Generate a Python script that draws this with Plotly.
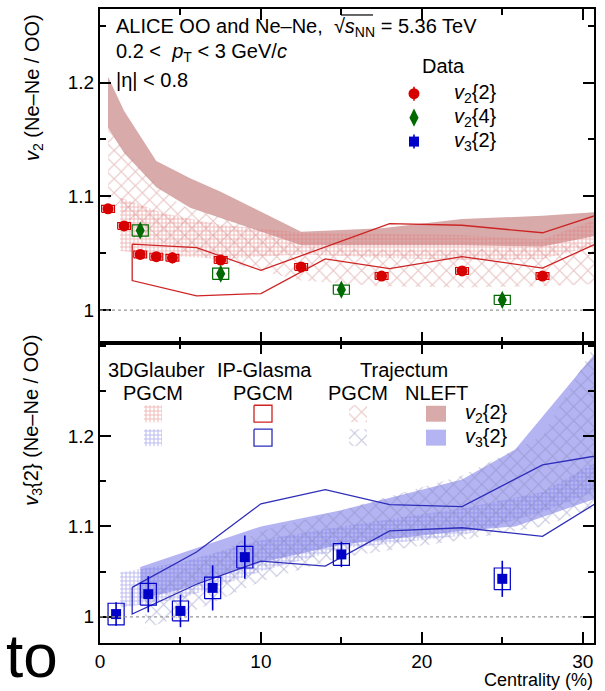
import plotly.graph_objects as go

# ---------------- data (ratio Ne-Ne / OO) ----------------
v22_x = [0.5, 1.5, 2.5, 3.5, 4.5, 7.5, 12.5, 17.5, 22.5, 27.5]
v22_y = [1.089, 1.074, 1.049, 1.047, 1.046, 1.044, 1.038, 1.030, 1.0345, 1.030]
v22_stat = [0.002, 0.002, 0.003, 0.003, 0.005, 0.003, 0.002, 0.002, 0.002, 0.002]
v22_syst = [0.003, 0.003, 0.003, 0.003, 0.003, 0.003, 0.003, 0.003, 0.003, 0.003]

v24_x = [2.5, 7.5, 15, 25]
v24_y = [1.070, 1.032, 1.018, 1.009]
v24_stat = [0.004, 0.006, 0.005, 0.004]
v24_syst = [0.005, 0.005, 0.004, 0.004]

v32_x = [1, 3, 5, 7, 9, 15, 25]
v32_y = [1.003, 1.025, 1.0065, 1.032, 1.066, 1.069, 1.042]
v32_stat = [0.013, 0.020, 0.018, 0.025, 0.024, 0.014, 0.020]
v32_syst = [0.012, 0.012, 0.011, 0.012, 0.012, 0.012, 0.012]

# ---------------- models, v2{2} ----------------
nleft_v2_x = [0.5, 1.5, 3.5, 5.6, 7.5, 12.5, 17.5, 22.5, 27.5, 30.7]
nleft_v2_hi = [1.205, 1.175, 1.131, 1.116, 1.104, 1.069, 1.072, 1.080, 1.083, 1.086]
nleft_v2_lo = [1.160, 1.138, 1.108, 1.090, 1.081, 1.057, 1.057, 1.057, 1.056, 1.065]

traj_v2_x = [0.5, 2.5, 5.0, 7.5, 12.5, 17.5, 22.5, 27.5, 30.7]
traj_v2_hi = [1.159, 1.125, 1.092, 1.082, 1.056, 1.053, 1.053, 1.056, 1.060]
traj_v2_lo = [1.098, 1.070, 1.052, 1.043, 1.026, 1.021, 1.020, 1.021, 1.023]

glau_v2_x = [1.25, 4.0, 7.5, 12.5, 17.5, 22.5, 27.5, 30.7]
glau_v2_hi = [1.099, 1.085, 1.075, 1.068, 1.067, 1.066, 1.062, 1.079]
glau_v2_lo = [1.052, 1.048, 1.045, 1.049, 1.046, 1.044, 1.045, 1.056]

ipg_v2_x = [2, 6, 10, 14, 18, 22.5, 27.5, 32.5]
ipg_v2_hi = [1.058, 1.055, 1.035, 1.0555, 1.076, 1.0746, 1.068, 1.091]
ipg_v2_lo = [1.026, 1.0126, 1.0146, 1.045, 1.0365, 1.047, 1.037, 1.069]

# ---------------- models, v3{2} ----------------
nleft_v3_x = [2.5, 5, 10, 15, 22.5, 25.8, 30.7]
nleft_v3_hi = [1.055, 1.070, 1.100, 1.118, 1.152, 1.185, 1.290]
nleft_v3_lo = [1.020, 1.030, 1.060, 1.080, 1.095, 1.100, 1.130]

traj_v3_x = [2.8, 5, 10, 15, 22.5, 27.5, 30.7]
traj_v3_hi = [1.020, 1.050, 1.095, 1.118, 1.156, 1.200, 1.300]
traj_v3_lo = [0.987, 1.000, 1.039, 1.066, 1.085, 1.100, 1.120]

glau_v3_x = [1.25, 5, 10, 15, 22.5, 27.5, 30.7]
glau_v3_hi = [1.049, 1.060, 1.085, 1.100, 1.120, 1.138, 1.170]
glau_v3_lo = [1.010, 1.020, 1.050, 1.075, 1.090, 1.116, 1.138]

ipg_v3_x = [2, 6, 10, 14, 18, 22.5, 27.5, 32.5]
ipg_v3_hi = [1.0326, 1.0717, 1.125, 1.1406, 1.124, 1.122, 1.168, 1.183]
ipg_v3_lo = [1.003, 1.036, 1.0616, 1.056, 1.095, 1.0985, 1.089, 1.144]

x_ticks = [0, 10, 20, 30]
y_ticks = [1, 1.1, 1.2]

# ---------------- styling / layout constants ----------------
W, H = 605, 691
L, R, T, B = 100, 11, 7, 48
FONT = "Liberation Sans, Arial, Helvetica, sans-serif"
FS = 20
RED, GREEN, BLUE = "rgb(215,0,0)", "rgb(0,105,0)", "rgb(0,0,200)"
PINK_SOLID, BLUE_SOLID = "rgb(216,170,170)", "rgb(180,180,243)"
PINK_HATCH, BLUE_HATCH = "rgb(208,135,135)", "rgb(135,135,185)"
PINK_GRID, BLUE_GRID = "rgb(226,118,118)", "rgb(118,118,226)"
IPG_RED, IPG_BLUE = "rgb(205,35,35)", "rgb(45,45,185)"
HATCH = dict(shape="x", size=10, solidity=0.2)
GRID = dict(shape="+", size=4, solidity=0.45)

def px_x(p):
    return (p - L) / (W - L - R)

def px_y(p):
    return (H - B - p) / (H - T - B)

fig = go.Figure()

def style_fill(tr, kind, color):
    if kind == "solid":
        tr.update(fillcolor=color, line=dict(width=0, color=color))
    elif kind == "line":
        tr.update(fill="none", line=dict(width=1.3, color=color))
    else:
        pat = HATCH if kind == "hatch" else GRID
        tr.update(fillcolor="rgba(0,0,0,0)", line=dict(width=0, color="rgba(0,0,0,0)"),
                  fillpattern=dict(fgcolor=color, bgcolor="rgba(0,0,0,0)",
                                   fillmode="overlay", **pat))
    return tr

def band(x, hi, lo, xa, ya, kind, color):
    xs = list(x) + list(x)[::-1] + [x[0]]
    ys = list(hi) + list(lo)[::-1] + [hi[0]]
    tr = dict(x=xs, y=ys, xaxis=xa, yaxis=ya, mode="lines", fill="toself",
              showlegend=False, hoverinfo="skip")
    fig.add_trace(go.Scatter(**style_fill(tr, kind, color)))

# top panel (x2, y2)
band(nleft_v2_x, nleft_v2_hi, nleft_v2_lo, "x2", "y2", "solid", PINK_SOLID)
band(glau_v2_x, glau_v2_hi, glau_v2_lo, "x2", "y2", "grid", PINK_GRID)
band(traj_v2_x, traj_v2_hi, traj_v2_lo, "x2", "y2", "hatch", PINK_HATCH)
band(ipg_v2_x, ipg_v2_hi, ipg_v2_lo, "x2", "y2", "line", IPG_RED)
# bottom panel (x, y)
band(nleft_v3_x, nleft_v3_hi, nleft_v3_lo, "x", "y", "solid", BLUE_SOLID)
band(glau_v3_x, glau_v3_hi, glau_v3_lo, "x", "y", "grid", BLUE_GRID)
band(traj_v3_x, traj_v3_hi, traj_v3_lo, "x", "y", "hatch", BLUE_HATCH)
band(ipg_v3_x, ipg_v3_hi, ipg_v3_lo, "x", "y", "line", IPG_BLUE)

def syst_boxes(x, y, s, hw, xa, ya, color):
    bx, by = [], []
    for xi, yi, si in zip(x, y, s):
        bx += [xi - hw, xi + hw, xi + hw, xi - hw, xi - hw, None]
        by += [yi - si, yi - si, yi + si, yi + si, yi - si, None]
    fig.add_trace(go.Scatter(x=bx, y=by, xaxis=xa, yaxis=ya, mode="lines",
                             line=dict(color=color, width=1.2), showlegend=False,
                             hoverinfo="skip"))

def points(x, y, stat, xa, ya, color, symbol, size):
    fig.add_trace(go.Scatter(x=x, y=y, xaxis=xa, yaxis=ya, mode="markers",
                             marker=dict(color=color, symbol=symbol, size=size, line=dict(width=0)),
                             error_y=dict(type="data", array=stat, color=color, thickness=1.6, width=0),
                             showlegend=False))

syst_boxes(v22_x, v22_y, v22_syst, 0.4, "x2", "y2", RED)
syst_boxes(v24_x, v24_y, v24_syst, 0.5, "x2", "y2", GREEN)
points(v22_x, v22_y, v22_stat, "x2", "y2", RED, "circle", 11)
points(v24_x, v24_y, v24_stat, "x2", "y2", GREEN, "diamond-tall", 13)
syst_boxes(v32_x, v32_y, v32_syst, 0.5, "x", "y", BLUE)
points(v32_x, v32_y, v32_stat, "x", "y", BLUE, "square", 10)

# ---------------- legends (drawn on a pixel-space overlay axis) ----------------
def lg_poly(cx, cy, hw, hh, kind, color):
    xs = [cx - hw, cx + hw, cx + hw, cx - hw, cx - hw]
    ys = [cy - hh, cy - hh, cy + hh, cy + hh, cy - hh]
    tr = dict(x=xs, y=ys, xaxis="x3", yaxis="y3", mode="lines", showlegend=False,
              hoverinfo="skip", fill="toself")
    fig.add_trace(go.Scatter(**style_fill(tr, kind, color)))

LEG_COLS = [153, 263, 358, 436]
LEG_ROWS = [413, 437]
for cy, cols in zip(LEG_ROWS, [(PINK_GRID, IPG_RED, PINK_HATCH, PINK_SOLID),
                                (BLUE_GRID, IPG_BLUE, BLUE_HATCH, BLUE_SOLID)]):
    for cx, kind, col in zip(LEG_COLS, ["grid", "line", "hatch", "solid"], cols):
        hw, hh = (10, 8) if kind == "solid" else (9, 8.5)
        lg_poly(cx, cy, hw, hh, kind, col)

# top data legend markers
TOP_LEG_X = 414
TOP_LEG_ROWS = [92, 116, 140]
for cy, col, sym, sz in zip(TOP_LEG_ROWS, [RED, GREEN, BLUE],
                            ["circle", "diamond-tall", "square"], [11, 13, 10]):
    fig.add_trace(go.Scatter(x=[TOP_LEG_X], y=[cy], xaxis="x3", yaxis="y3", mode="markers",
                             marker=dict(color=col, symbol=sym, size=sz),
                             error_y=dict(type="constant", value=7, color=col, thickness=1.6, width=0),
                             showlegend=False, hoverinfo="skip"))

ann = []
def text(px, py, s, size=FS, xanchor="left", yanchor="middle", angle=0):
    ann.append(dict(x=px_x(px), y=px_y(py), xref="paper", yref="paper", text=s,
                    showarrow=False, xanchor=xanchor, yanchor=yanchor, textangle=angle,
                    font=dict(family=FONT, size=size, color="black")))

text(114, 26, "ALICE OO and Ne–Ne,  √<i>s</i><sub>NN</sub> = 5.36 TeV")
text(114, 51, "0.2 <  <i>p</i><sub>T</sub> < 3 GeV/<i>c</i>")
text(114, 78, "|η| < 0.8")
text(420, 64, "Data")
for cy, lab in zip(TOP_LEG_ROWS, ["<i>v</i><sub>2</sub>{2}", "<i>v</i><sub>2</sub>{4}",
                                   "<i>v</i><sub>3</sub>{2}"]):
    text(452, cy, lab)

for cx, lab in zip([156, 264, 404], ["3DGlauber", "IP-Glasma", "Trajectum"]):
    text(cx, 369, lab, xanchor="center")
for cx, lab in zip(LEG_COLS, ["PGCM", "PGCM", "PGCM", "NLEFT"]):
    text(cx, 392, lab, xanchor="center")
text(463, LEG_ROWS[0], "<i>v</i><sub>2</sub>{2}")
text(463, LEG_ROWS[1], "<i>v</i><sub>3</sub>{2}")

text(33, 162, "<i>v</i><sub>2</sub> (Ne–Ne / OO)", yanchor="bottom", xanchor="center", angle=-90)
text(33, 420, "<i>v</i><sub>3</sub>{2} (Ne–Ne / OO)", xanchor="center", angle=-90)
text(595, 692, "Centrality (%)", size=18, xanchor="right", yanchor="bottom")
text(4, 656, "to", size=62, xanchor="left")

fig.update_layout(annotations=ann)

# dashed unity lines + overline of sqrt(s_NN)
shapes = []
for xr, yr in [("x", "y"), ("x2", "y2")]:
    shapes.append(dict(type="line", xref=xr, yref=yr, x0=0, x1=30, y0=1, y1=1,
                       line=dict(color="rgb(150,150,150)", width=1.2, dash="3px,3px")))
shapes.append(dict(type="line", xref="paper", yref="paper", x0=px_x(341), x1=px_x(373),
                   y0=px_y(13), y1=px_y(13), line=dict(color="black", width=1.2)))
fig.update_layout(shapes=shapes)

axis_common = dict(showline=True, linecolor="black", linewidth=2, mirror="allticks",
                   ticks="inside", tickwidth=2, tickcolor="black", ticklen=11,
                   showgrid=False, zeroline=False,
                   tickfont=dict(family=FONT, size=19, color="black"))
MINOR_X = dict(dtick=5, ticklen=6, tickwidth=2, ticks="inside", tickcolor="black")
MINOR_Y = dict(dtick=0.05, tick0=1, ticklen=6, tickwidth=2, ticks="inside", tickcolor="black")
DOM_SPLIT = px_y(342)
fig.update_layout(
    width=W, height=H, margin=dict(l=L, r=R, t=T, b=B),
    paper_bgcolor="white", plot_bgcolor="rgba(0,0,0,0)",
    xaxis=dict(domain=[0, 1], anchor="y", range=[0, 30.7], tickvals=x_ticks,
               ticklabelstandoff=0, minor=MINOR_X, **axis_common),
    yaxis=dict(domain=[0, DOM_SPLIT], anchor="x", range=[0.971, 1.303], tickvals=y_ticks,
               minor=MINOR_Y, **axis_common),
    xaxis2=dict(domain=[0, 1], anchor="y2", range=[0, 30.7], tickvals=x_ticks, matches="x",
                showticklabels=False, minor=MINOR_X, **axis_common),
    yaxis2=dict(domain=[DOM_SPLIT, 1], anchor="x2", range=[0.9712, 1.2646], tickvals=y_ticks,
                minor=MINOR_Y, **axis_common),
    xaxis3=dict(domain=[0, 1], anchor="y3", range=[L, W - R], visible=False, fixedrange=True),
    yaxis3=dict(domain=[0, 1], anchor="x3", range=[H - B, T], visible=False, fixedrange=True),
    showlegend=False,
)

# the page body normally has an 8px margin; remove it so the figure fills the window
fig.write_html("out.html", config={"displayModeBar": False, "staticPlot": True},
               post_script="document.body.style.margin='0px';")
